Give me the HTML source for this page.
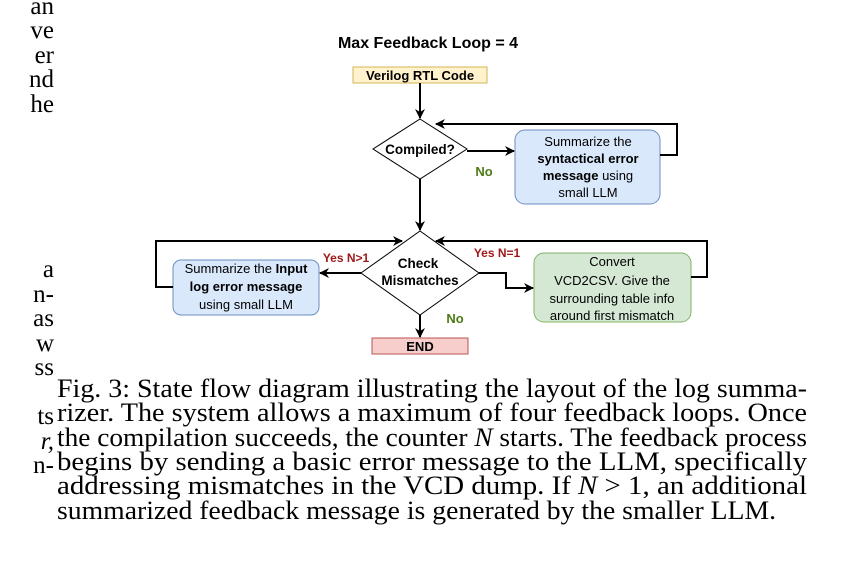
<!DOCTYPE html>
<html><head><style>
html,body{margin:0;padding:0;background:#fff;width:863px;height:580px;overflow:hidden}
</style></head><body>
<svg width="863" height="580" viewBox="0 0 863 580" xmlns="http://www.w3.org/2000/svg">
<defs>
<marker id="a" markerWidth="10" markerHeight="10" refX="9" refY="5" orient="auto" markerUnits="userSpaceOnUse">
<path d="M0,0 L10,5 L0,10 L3,5 z" fill="#000"/>
</marker>
</defs>
<g font-family="Liberation Serif, serif" font-size="25" fill="#000" text-anchor="end">
<text x="54" y="14">an</text>
<text x="54" y="38">ve</text>
<text x="54" y="63">er</text>
<text x="54" y="87">nd</text>
<text x="54" y="112">he</text>
<text x="54" y="277">a</text>
<text x="54" y="302">n-</text>
<text x="54" y="326">as</text>
<text x="54" y="351">w</text>
<text x="54" y="375">ss</text>
<text x="54" y="424">ts</text>
<text x="54" y="449" font-style="italic">r,</text>
<text x="54" y="473">n-</text>
</g>
<text x="428" y="48" font-family="Liberation Sans, sans-serif" font-weight="bold" font-size="16" text-anchor="middle">Max Feedback Loop = 4</text>
<g font-family="Liberation Sans, sans-serif" font-size="13" text-anchor="middle">
<rect x="353" y="67" width="134" height="16" fill="#fff2cc" stroke="#d6b656"/>
<text x="420" y="80" font-weight="bold">Verilog RTL Code</text>
<polygon points="420,119 467,149 420,179 373,149" fill="#fff" stroke="#000"/>
<text x="420" y="154" font-weight="bold" font-size="13.5">Compiled?</text>
<rect x="515" y="130" width="145" height="74" rx="10" fill="#dae8fc" stroke="#6c8ebf"/>
<text x="588" y="146">Summarize the</text>
<text x="588" y="163" font-weight="bold">syntactical error</text>
<text x="588" y="180"><tspan font-weight="bold">message</tspan> using</text>
<text x="588" y="197">small LLM</text>
<text x="484" y="176" fill="#4d7a17" font-weight="bold">No</text>
<polygon points="420,231 479,273 420,315 361,273" fill="#fff" stroke="#000"/>
<text x="418" y="268" font-weight="bold" font-size="13.5">Check</text>
<text x="420" y="285" font-weight="bold" font-size="13.5">Mismatches</text>
<rect x="173" y="260" width="146" height="55" rx="8" fill="#dae8fc" stroke="#6c8ebf"/>
<text x="246" y="273">Summarize the <tspan font-weight="bold">Input</tspan></text>
<text x="246" y="291" font-weight="bold">log error message</text>
<text x="246" y="309">using small LLM</text>
<rect x="534" y="253" width="157" height="69" rx="10" fill="#d5e8d4" stroke="#82b366"/>
<text x="612" y="266">Convert</text>
<text x="612" y="285">VCD2CSV. Give the</text>
<text x="612" y="303">surrounding table info</text>
<text x="612" y="320">around first mismatch</text>
<text x="346" y="262" fill="#a01818" font-weight="bold" font-size="12">Yes N&gt;1</text>
<text x="497" y="257" fill="#a01818" font-weight="bold" font-size="12">Yes N=1</text>
<text x="455" y="323" fill="#4d7a17" font-weight="bold">No</text>
<rect x="372" y="338" width="96" height="16" fill="#f8cecc" stroke="#b85450"/>
<text x="420" y="351" font-weight="bold">END</text>
</g>
<g stroke="#000" stroke-width="2" fill="none">
<path d="M420,83 V118" marker-end="url(#a)"/>
<path d="M467,151 H514" marker-end="url(#a)"/>
<path d="M660,155 H677 V124 H436" marker-end="url(#a)"/>
<path d="M420,179 V230" marker-end="url(#a)"/>
<path d="M361,273 H320" marker-end="url(#a)"/>
<path d="M173,287 H156 V241 H402" marker-end="url(#a)"/>
<path d="M479,273 H506 V288 H533" marker-end="url(#a)"/>
<path d="M691,277 H707 V241 H436" marker-end="url(#a)"/>
<path d="M420,315 V337" marker-end="url(#a)"/>
</g>
<g font-family="Liberation Serif, serif" font-size="26" fill="#000">
<text x="57" y="397" textLength="750" lengthAdjust="spacingAndGlyphs">Fig. 3: State flow diagram illustrating the layout of the log summa-</text>
<text x="57" y="421" textLength="750" lengthAdjust="spacingAndGlyphs">rizer. The system allows a maximum of four feedback loops. Once</text>
<text x="57" y="446" textLength="750" lengthAdjust="spacingAndGlyphs">the compilation succeeds, the counter <tspan font-style="italic">N</tspan> starts. The feedback process</text>
<text x="57" y="470" textLength="750" lengthAdjust="spacingAndGlyphs">begins by sending a basic error message to the LLM, specifically</text>
<text x="57" y="494" textLength="750" lengthAdjust="spacingAndGlyphs">addressing mismatches in the VCD dump. If <tspan font-style="italic">N</tspan> &gt; 1, an additional</text>
<text x="57" y="519" textLength="719" lengthAdjust="spacingAndGlyphs">summarized feedback message is generated by the smaller LLM.</text>
</g>
</svg>
</body></html>
